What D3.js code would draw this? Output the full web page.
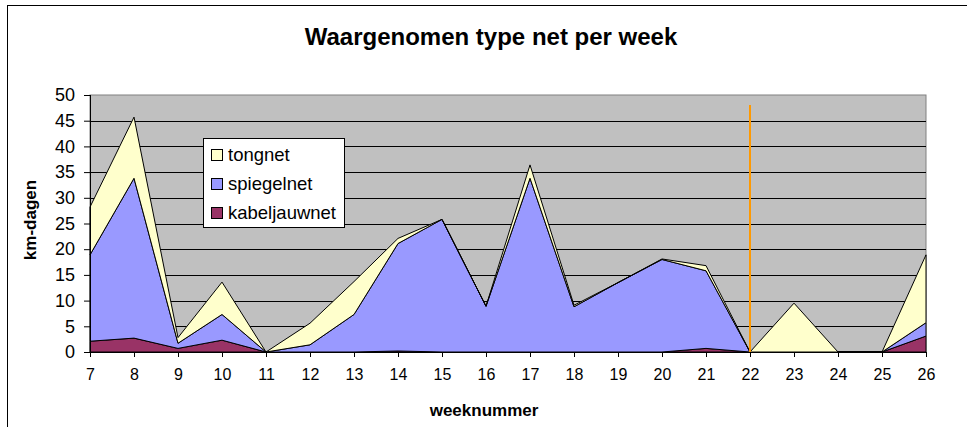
<!DOCTYPE html>
<html>
<head>
<meta charset="utf-8">
<script src="https://cdn.jsdelivr.net/npm/d3@7"></script>
<style>
  body { margin: 0; background: #fff; }
  svg { display: block; font-family: Arial, "Liberation Sans", sans-serif; }
</style>
</head>
<body>
<svg id="chart" width="967" height="427"></svg>
<script>
// Data
const weeks = [7, 8, 9, 10, 11, 12, 13, 14, 15, 16, 17, 18, 19, 20, 21, 22, 23, 24, 25, 26];
const kabeljauwnet = [2.1, 2.7, 0.7, 2.3, 0, 0, 0, 0.2, 0, 0, 0, 0, 0, 0, 0.7, 0, 0, 0, 0, 3.1];
const spiegelnet = [16.8, 31.1, 1.0, 5.0, 0, 1.4, 7.3, 20.9, 25.8, 8.9, 33.8, 8.8, 13.5, 18.0, 15.1, 0, 0, 0, 0, 2.6];
const tongnet = [9.3, 11.9, 1.1, 6.3, 0, 4.2, 6.4, 1.0, 0, 0, 2.6, 0.3, 0, 0.1, 1.0, 0, 9.5, 0, 0, 13.2];
const seriesNames = ['kabeljauwnet', 'spiegelnet', 'tongnet'];
const colors = { kabeljauwnet: '#993366', spiegelnet: '#9999FF', tongnet: '#FFFFCC' };
const yTicks = [0, 5, 10, 15, 20, 25, 30, 35, 40, 45, 50];
const markerWeek = 22;

const svg = d3.select('#chart');

// outer frame
svg.append('rect').attr('x', 7.5).attr('y', 5.5).attr('width', 1000).attr('height', 500)
    .attr('fill', '#fff').attr('stroke', '#000');

const margin = { top: 95, left: 90, right: 41, bottom: 75 };
const width = 967 - margin.left - margin.right;
const height = 427 - margin.top - margin.bottom;

const x = d3.scaleLinear().domain([weeks[0], weeks[weeks.length - 1]]).range([0, width]);
const y = d3.scaleLinear().domain([0, 50]).range([height, 0]);

const g = svg.append('g').attr('transform', `translate(${margin.left},${margin.top})`);

// plot background
g.append('rect').attr('width', width).attr('height', height)
    .attr('fill', '#C0C0C0').attr('stroke', '#808080');

// gridlines
g.selectAll('.grid').data(yTicks.filter(d => d > 0 && d < 50)).enter().append('line')
    .attr('x1', 0).attr('x2', width)
    .attr('y1', d => Math.round(y(d)) + 0.5).attr('y2', d => Math.round(y(d)) + 0.5)
    .attr('stroke', '#000');

// stacked areas
const rows = weeks.map((w, i) => ({ week: w, kabeljauwnet: kabeljauwnet[i], spiegelnet: spiegelnet[i], tongnet: tongnet[i] }));
const stacked = d3.stack().keys(seriesNames)(rows);
const area = d3.area()
    .x(d => x(d.data.week))
    .y0(d => y(d[0]))
    .y1(d => y(d[1]));

g.selectAll('.layer').data(stacked).enter().append('path')
    .attr('d', area)
    .attr('fill', d => colors[d.key])
    .attr('stroke', '#000')
    .attr('stroke-width', 1)
    .attr('stroke-linejoin', 'round');

// marker line at week 22
g.append('line')
    .attr('x1', x(markerWeek)).attr('x2', x(markerWeek))
    .attr('y1', 10).attr('y2', height)
    .attr('stroke', '#FF9900').attr('stroke-width', 2);

// axes
const yAxis = g.append('g').call(d3.axisLeft(y).tickValues(yTicks).tickSize(6).tickPadding(9));
yAxis.select('.domain').attr('d', `M0.5,0V${height}`);
yAxis.selectAll('text').attr('font-size', 18).attr('font-family', 'Arial, "Liberation Sans", sans-serif').attr('fill', '#000');

const xAxis = g.append('g').attr('transform', `translate(0,${height})`)
    .call(d3.axisBottom(x).tickValues(weeks).tickFormat(d3.format('d')).tickSize(5).tickPadding(12));
xAxis.select('.domain').attr('d', `M0,0.5H${width}`);
xAxis.selectAll('text').attr('font-size', 16).attr('font-family', 'Arial, "Liberation Sans", sans-serif').attr('fill', '#000');

// titles
svg.append('text').attr('x', 491).attr('y', 45).attr('text-anchor', 'middle')
    .attr('font-size', 24).attr('font-weight', 'bold').text('Waargenomen type net per week');
svg.append('text').attr('x', 484).attr('y', 416).attr('text-anchor', 'middle')
    .attr('font-size', 17).attr('font-weight', 'bold').text('weeknummer');
svg.append('text').attr('transform', 'translate(36,220) rotate(-90)').attr('text-anchor', 'middle')
    .attr('font-size', 17).attr('font-weight', 'bold').text('km-dagen');

// legend
const legend = svg.append('g').attr('transform', 'translate(203,138)');
legend.append('rect').attr('x', 0.5).attr('y', 0.5).attr('width', 141).attr('height', 89)
    .attr('fill', '#fff').attr('stroke', '#000');
const legendOrder = ['tongnet', 'spiegelnet', 'kabeljauwnet'];
legendOrder.forEach((name, i) => {
    const cy = 17 + i * 29;
    legend.append('rect').attr('x', 8.5).attr('y', cy - 5.5).attr('width', 11).attr('height', 11)
        .attr('fill', colors[name]).attr('stroke', '#000');
    legend.append('text').attr('x', 25).attr('y', cy + 6).attr('font-size', 18.5).text(name);
});
</script>
</body>
</html>
